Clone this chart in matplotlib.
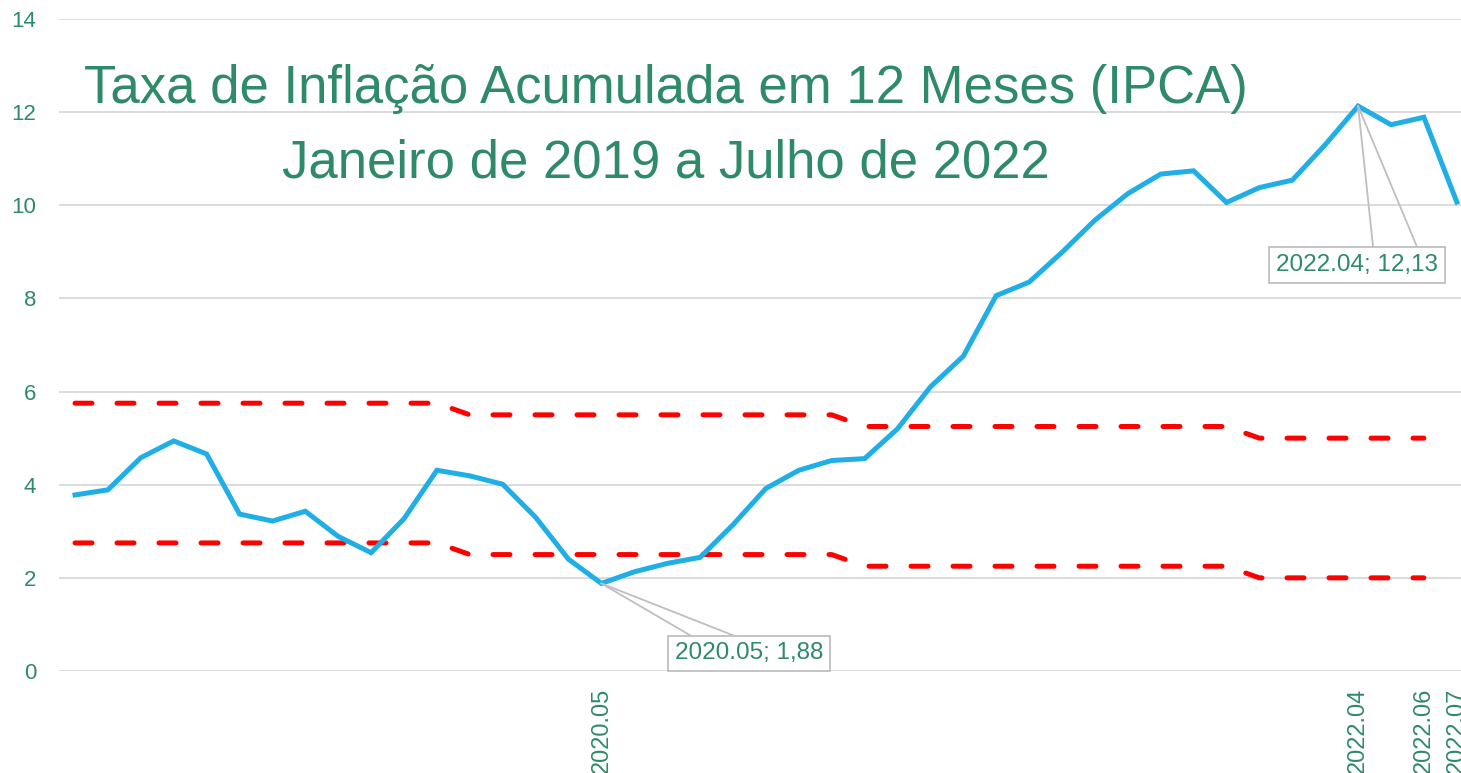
import matplotlib
matplotlib.use("Agg")
import matplotlib.pyplot as plt
import numpy as np
from matplotlib.transforms import IdentityTransform
from matplotlib import font_manager

# ---- data ----
months = [f"{y}.{m:02d}" for y in (2019, 2020, 2021, 2022) for m in range(1, 13)][:43]
ipca = [3.78, 3.89, 4.58, 4.94, 4.66, 3.37, 3.22, 3.43, 2.89, 2.54, 3.27, 4.31,
        4.19, 4.01, 3.30, 2.40, 1.88, 2.13, 2.31, 2.44, 3.14, 3.92, 4.31, 4.52,
        4.56, 5.20, 6.10, 6.76, 8.06, 8.35, 8.99, 9.68, 10.25, 10.67, 10.74, 10.06,
        10.38, 10.54, 11.30, 12.13, 11.73, 11.89, 10.07]
upper = [5.75] * 12 + [5.50] * 12 + [5.25] * 12 + [5.00] * 6 + [np.nan]
lower = [2.75] * 12 + [2.50] * 12 + [2.25] * 12 + [2.00] * 6 + [np.nan]
shown_ticks = ["2020.05", "2022.04", "2022.06", "2022.07"]
annotated = ["2020.05", "2022.04"]
title1 = "Taxa de Inflação Acumulada em 12 Meses (IPCA)"
title2 = "Janeiro de 2019 a Julho de 2022"

GREEN = "#2E8A68"
BLUE = "#1FAEE5"
RED = "#FF0000"
GRID = "#D9D9D9"

plt.rcParams['font.family'] = ['Liberation Sans', 'DejaVu Sans']

# narrow title font if available
title_family = ['Liberation Sans']
title_size = 38
try:
    font_manager.findfont(font_manager.FontProperties(family='Liberation Sans Narrow'),
                          fallback_to_default=False)
    title_family = ['Liberation Sans Narrow', 'Liberation Sans']
    title_size = 46
except Exception:
    pass

W, H = 1461, 773
fig = plt.figure(figsize=(W / 100, H / 100), dpi=100)
step = 32.9
left_px = 75 - step / 2
right_px = 75 + 42 * step + step / 2
ax = fig.add_axes([left_px / W, (H - 671) / H, (right_px - left_px) / W, (671 - 19) / H])

x = np.arange(len(months))
ax.plot(x, upper, color=RED, lw=3.6, dash_capstyle='round', dashes=(3.4, 5.0), zorder=3)
ax.plot(x, lower, color=RED, lw=3.6, dash_capstyle='round', dashes=(3.4, 5.0), zorder=3)
ax.plot(x, ipca, color=BLUE, lw=3.6, solid_joinstyle='miter', zorder=4)

ax.set_xlim(-0.5, len(months) - 0.5)
ax.set_ylim(0, 14)
ax.set_yticks(range(0, 15, 2))
ax.yaxis.grid(True, color=GRID, lw=1.3)
ax.set_axisbelow(True)
for s in ax.spines.values():
    s.set_visible(False)
ax.tick_params(axis='y', length=0, pad=16, labelsize=16, labelcolor=GREEN)
tick_pos = [months.index(t) for t in shown_ticks]
ax.set_xticks(tick_pos)
ax.set_xticklabels(shown_ticks, rotation=90, va='top', ha='center')
ax.tick_params(axis='x', length=0, pad=12, labelsize=17, labelcolor=GREEN)

# data labels with callouts
fig.canvas.draw()
offsets = {"2020.05": (148, -70, 89, 132, 18), "2022.04": (-1, -159, 15, 59, 18)}
for m in annotated:
    i = months.index(m)
    px, py = ax.transData.transform((i, ipca[i]))
    dx, dy, l1, l2, hh = offsets[m]
    bx, by = px + dx, py + dy
    for lx in (l1, l2):
        ax.add_line(plt.Line2D([px, px + lx], [py, by + hh], transform=IdentityTransform(),
                               color="#BFBFBF", lw=1.3, zorder=5))
    label = f"{m}; " + f"{ipca[i]:.2f}".replace(".", ",")
    fig.text(bx / W, by / H, label, ha='center', va='center', fontsize=17.5, color=GREEN,
             bbox=dict(boxstyle='square,pad=0.28', fc='white', ec='#BFBFBF', lw=1.3), zorder=6)

fig.text(666 / W, 1 - 103 / H, title1, ha='center', va='baseline', fontsize=title_size,
         color=GREEN, family=title_family)
fig.text(666 / W, 1 - 177 / H, title2, ha='center', va='baseline', fontsize=title_size,
         color=GREEN, family=title_family)

fig.savefig("out.png", dpi=100)
